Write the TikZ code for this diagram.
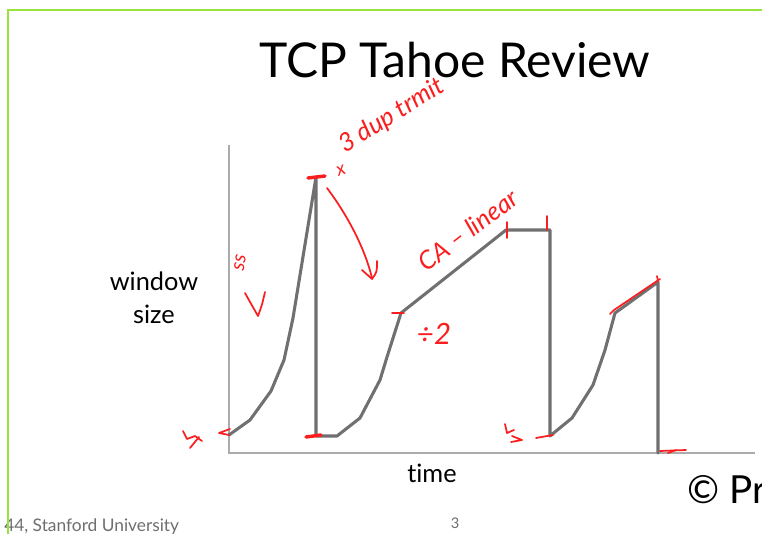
\documentclass[tikz,border=0pt]{standalone}
\usepackage{fontspec}
\setmainfont{Lato}[Ligatures=NoCommon]
\definecolor{curvegray}{RGB}{112,112,112}
\definecolor{axisgray}{RGB}{172,172,172}
\definecolor{inkred}{RGB}{250,30,30}
\definecolor{framegreen}{RGB}{150,228,60}
\definecolor{footgray}{RGB}{110,110,110}
\begin{document}
\begin{tikzpicture}[x=0.75pt,y=-0.75pt,
  curve/.style={draw=curvegray,line width=2.3pt,line join=round,line cap=round},
  axis/.style={draw=axisgray,line width=1.1pt},
  ink/.style={draw=inkred,line width=1.3pt,line cap=round,line join=round},
  inkthick/.style={draw=inkred,line width=2.6pt,line cap=round},
  handtext/.style={text=inkred,font=\itshape\fontsize{19}{19}\selectfont,inner sep=0pt},
  axislabel/.style={inner sep=0pt,font=\fontsize{19}{20}\selectfont}]
\useasboundingbox (0,0) rectangle (762,534);
\clip (0,0) rectangle (762,534);
\fill[white] (0,0) rectangle (762,534);

% title
\node[anchor=base,font=\fontsize{36}{40}\selectfont,inner sep=0pt] (title) at (455,78) {TCP Tahoe Review};

% axes
\coordinate (ytop) at (229,145);
\coordinate (origin) at (229,453);
\coordinate (xend) at (755,453);
\draw[axis] (ytop) -- (origin) -- (xend);

% congestion window trace
\coordinate (s1) at (229,435);
\coordinate (p1) at (316,177);
\coordinate (d1) at (316,436);
\coordinate (t1) at (401,313);
\coordinate (p2) at (506,230);
\coordinate (q2) at (550,230);
\coordinate (d2) at (550,436);
\coordinate (t2) at (615,313);
\coordinate (p3) at (658,282);
\coordinate (d3) at (658,453);
\draw[curve] (s1) -- (250,420) -- (271,391) -- (284,360) -- (293,318) -- (p1)
  -- (d1) -- (337,436) -- (360,418) -- (380,380) -- (387,357) -- (t1)
  -- (p2) -- (q2) -- (d2) -- (572,418) -- (593,385) -- (605,350) -- (t2)
  -- (p3) -- (d3);

% axis labels
\node[axislabel,anchor=base] (wlabel) at (154,290) {window};
\node[axislabel,anchor=base] (slabel) at (154,323) {size};
\node[axislabel,anchor=base] (tlabel) at (432,482) {time};

% slide furniture
\node[anchor=base,font=\fontsize{11}{12}\selectfont,text=footgray,inner sep=0pt] (page) at (455,528) {3};
\node[anchor=base west,font=\fontsize{13}{14}\selectfont,text=footgray,inner sep=0pt] (footer) at (4,531) {44, Stanford University};
\node[anchor=base west,font=\fontsize{29}{32}\selectfont,inner sep=0pt] (copy) at (687,503) {© Pr};
\draw[framegreen,line width=1.9pt] (8,534) -- (8,10) -- (762,10);

% hand annotations: slow start
\node[handtext,rotate=80,font=\itshape\fontsize{15}{15}\selectfont] (ss) at (240,263) {ss};
\draw[ink] (245,293) .. controls (250,302) .. (258,316) .. controls (262,305) .. (265,292);
\draw[ink] (230,429) -- (219,433) -- (229,435);
\draw[ink] (183,431) -- (187,439) -- (195,436) -- (202,441);
\draw[ink] (190,448) -- (199,437);

% timeout at the first peak
\draw[inkthick] (308,178) -- (325,176);
\node[handtext,rotate=32] (dupack) at (392,116) {3 dup trmit};
\node[handtext,rotate=20,font=\itshape\fontsize{14}{14}\selectfont] (xmark) at (341,171) {x};
\draw[ink] (327,188) .. controls (345,212) and (364,245) .. (372,278);
\draw[ink] (362,270) -- (372,279) .. controls (377,272) .. (377,261);
\draw[inkthick] (306,437) -- (321,435);

% congestion avoidance
\draw[ink] (392,313) -- (404,313);
\node[handtext,font=\itshape\fontsize{22}{22}\selectfont] (half) at (434,334) {÷2};
\node[handtext,rotate=37] (ca) at (468,230) {CA – linear};
\draw[ink] (507,222) -- (507,238);
\draw[ink] (547,216) -- (547,230);

% second restart
\draw[ink] (505,424) -- (507,433) -- (514,430);
\draw[ink] (511,442) -- (522,440) -- (512,436);
\draw[ink] (536,438) -- (553,435);
\draw[ink] (610,314) -- (614,310) -- (660,279);
\draw[ink] (657,276) -- (658,281);
\draw[ink] (660,451) -- (686,450);
\draw[ink] (668,453) -- (676,450);
\end{tikzpicture}
\end{document}
